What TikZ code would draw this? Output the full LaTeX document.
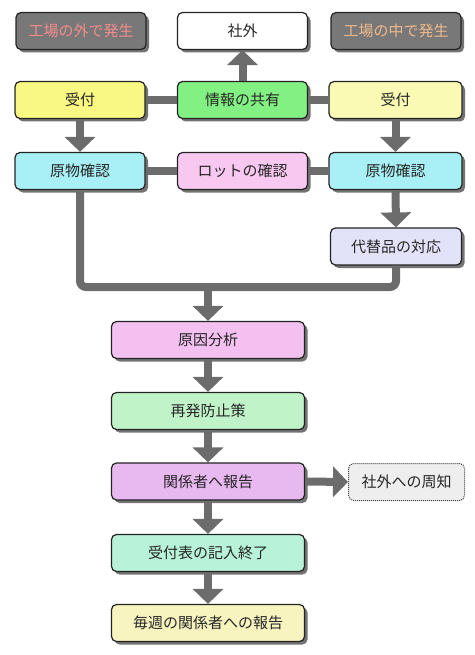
\documentclass[tikz,border=0pt]{standalone}
\usepackage{fontspec}
\setmainfont{Noto Sans CJK JP}
\usetikzlibrary{arrows.meta,shadows}
\definecolor{arrcol}{RGB}{108,108,108}
\definecolor{boxline}{RGB}{35,35,35}
\definecolor{topgray}{RGB}{120,120,120}
\definecolor{pinktxt}{RGB}{245,140,140}
\definecolor{orangetxt}{RGB}{240,185,140}
\definecolor{cYel}{RGB}{248,248,130}
\definecolor{cYelL}{RGB}{250,250,180}
\definecolor{cGrn}{RGB}{130,240,130}
\definecolor{cCyan}{RGB}{168,240,246}
\definecolor{cPink}{RGB}{248,200,240}
\definecolor{cLav}{RGB}{226,226,248}
\definecolor{cMag}{RGB}{244,192,240}
\definecolor{cMint}{RGB}{192,244,200}
\definecolor{cViol}{RGB}{232,184,240}
\definecolor{cTeal}{RGB}{184,242,216}
\definecolor{cCream}{RGB}{248,244,192}
\definecolor{cLight}{RGB}{238,238,238}
\tikzset{
  box/.style={draw=boxline, line width=1.2pt, rounded corners=5pt, text=black!85,
    minimum width=130pt, minimum height=37pt, inner sep=0pt,
    font=\fontsize{15pt}{17pt}\selectfont,
    drop shadow={shadow xshift=3pt, shadow yshift=-3pt, fill=black, opacity=.55}},
  widebox/.style={box, minimum width=193pt},
  conn/.style={draw=arrcol, line width=8pt},
  arr/.style={conn, -{Triangle[width=30pt,length=15pt]}},
}
\begin{document}
\begin{tikzpicture}[x=1pt,y=-1pt]
\useasboundingbox (0,0) rectangle (474,655);
% row 1
\node[box, fill=topgray, text=pinktxt] (oL) at (81,31) {工場の外で発生};
\node[box, fill=white] (sha) at (242.5,31) {社外};
\node[box, fill=topgray, text=orangetxt] (iR) at (396,31) {工場の中で発生};
% row 2
\node[box, fill=cYel] (uL) at (80,100) {受付};
\node[box, fill=cGrn] (info) at (242.5,100) {情報の共有};
\node[box, fill=cYelL, minimum width=133pt] (uR) at (395.5,100) {受付};
% row 3
\node[box, fill=cCyan] (gL) at (80,171) {原物確認};
\node[box, fill=cPink] (lot) at (242.5,171) {ロットの確認};
\node[box, fill=cCyan, minimum width=133pt] (gR) at (395.5,171) {原物確認};
\node[box, fill=cLav, minimum width=131pt] (alt) at (396,246.5) {代替品の対応};
% main column
\node[widebox, fill=cMag] (cause) at (208,340) {原因分析};
\node[widebox, fill=cMint] (prev) at (208,411) {再発防止策};
\node[widebox, fill=cViol] (rep) at (208,481.5) {関係者へ報告};
\node[draw=black!75, densely dotted, line width=1pt, rounded corners=5pt, fill=cLight,
      minimum width=116pt, minimum height=37pt, inner sep=0pt, text=black!85,
      font=\fontsize{15pt}{17pt}\selectfont] (ext) at (406.5,482) {社外への周知};
\node[widebox, fill=cTeal] (rec) at (208,553) {受付表の記入終了};
\node[widebox, fill=cCream] (week) at (208,623) {毎週の関係者への報告};
% connectors
\draw[arr] (info.north) -- (sha.south);
\draw[conn] (uL.east) -- (info.west);
\draw[conn] (info.east) -- (uR.west);
\draw[conn] (gL.east) -- (lot.west);
\draw[conn] (lot.east) -- (gR.west);
\draw[arr] (uL.south) -- (gL.north);
\draw[arr] (uR.south) -- (gR.north);
\draw[arr] (gR.south) -- (alt.north);
\coordinate (m) at (208,287);
\draw[conn, rounded corners=6pt] (gL.south) |- (m) -| (alt.south);
\draw[arr] (m) -- (cause.north);
\draw[arr] (cause.south) -- (prev.north);
\draw[arr] (prev.south) -- (rep.north);
\draw[arr] (rep.east) -- (ext.west);
\draw[arr] (rep.south) -- (rec.north);
\draw[arr] (rec.south) -- (week.north);
\end{tikzpicture}
\end{document}
